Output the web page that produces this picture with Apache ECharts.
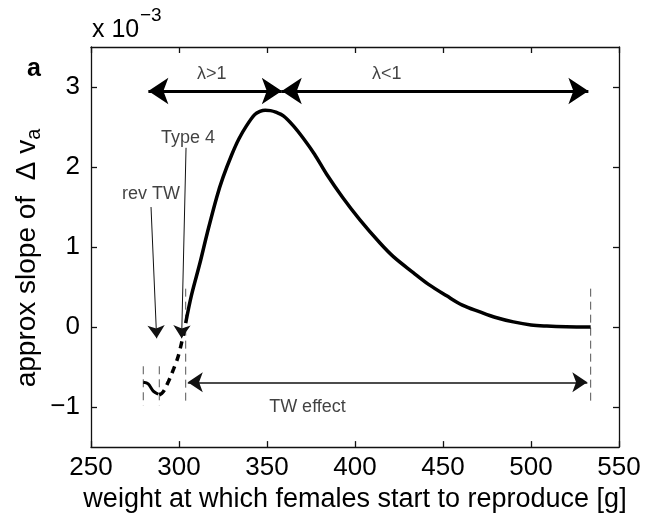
<!DOCTYPE html>
<html><head><meta charset="utf-8">
<script src="https://cdn.jsdelivr.net/npm/echarts@6/dist/echarts.min.js"></script>
<style>html,body{margin:0;padding:0;background:#fff}#c{width:645px;height:518px}</style>
</head><body><div id="c"></div>
<script>
// ---- data (y values in units of 1e-3) ----
const mainX = [303.8, 307, 311.9, 316, 321.4, 325, 329.9, 334, 338.5, 343, 346, 349, 352, 355, 359.3, 365, 370.6, 377, 383.9, 393, 402.8, 414.2, 421.8, 433.1, 442, 452.1, 461, 471, 480, 490, 500, 509, 520, 533.9];
const mainY = [0.05, 0.39, 0.80, 1.17, 1.62, 1.87, 2.15, 2.35, 2.52, 2.655, 2.695, 2.71, 2.705, 2.685, 2.64, 2.515, 2.36, 2.16, 1.91, 1.62, 1.34, 1.05, 0.88, 0.68, 0.53, 0.39, 0.275, 0.19, 0.12, 0.065, 0.027, 0.013, 0.004, 0.0];
const dashX = [288.8, 291, 294, 297, 300, 303.8];
const dashY = [-0.85, -0.81, -0.68, -0.52, -0.33, 0.05];
const leftX = [279.7, 282.5, 285.4, 288.2];
const leftY = [-0.69, -0.71, -0.80, -0.84];
const vlineX = [279.7, 288.8, 303.8, 533.9];
const vlineTop = [-0.49, -0.49, 0.48, 0.48];
const vlineBottom = [-0.98, -0.98, -0.98, -0.98];
const lambdaArrowX = [[282.6, 358.4], [358.4, 532.6]];
const lambdaArrowY = 2.95;
const twArrowX = [305, 532];
const twArrowY = -0.69;
const pointerFrom = [[284.1, 1.50], [304.0, 2.24]];
const pointerTo = [[287.3, -0.14], [301.5, -0.14]];
const labelTexts = ['λ>1', 'λ<1', 'Type 4', 'rev TW', 'TW effect'];
const labelX = [318.6, 418.0, 305.1, 284.1, 373.0];
const labelY = [3.16, 3.16, 2.36, 1.66, -1.0];
const xTickStep = 50;
const xRange = [250, 550];
const yRange = [-1.5, 3.5];
const yTickValues = [-1, 0, 1, 2, 3];
const scaleTexts = ['x 10', '−3'];
const panelLetter = 'a';
const xTitle = 'weight at which females start to reproduce [g]';
const yTitleMain = 'approx slope of  Δ v';
const yTitleSub = 'a';

const FONT = "'Liberation Sans', Arial, Helvetica, sans-serif";
const chart = echarts.init(document.getElementById('c'), null, {renderer: 'canvas'});

const axisLineStyle = {color: '#111', width: 1.3};
const fmtNum = v => (v < 0 ? '−' + Math.abs(v) : String(v));

const series = [];
series.push({type: 'line', data: mainX.map((x, i) => [x, mainY[i]]), smooth: 0.35, symbol: 'none',
  lineStyle: {color: '#000', width: 3.5}, z: 5, silent: true});
series.push({type: 'line', data: leftX.map((x, i) => [x, leftY[i]]), smooth: 0.3, symbol: 'none',
  lineStyle: {color: '#000', width: 3}, z: 5, silent: true});
series.push({type: 'line', data: dashX.map((x, i) => [x, dashY[i]]), smooth: 0.4, symbol: 'none',
  lineStyle: {color: '#000', width: 3.5, type: [7, 6]}, z: 5, silent: true});
vlineX.forEach((x, i) => {
  series.push({type: 'line', data: [[x, vlineTop[i]], [x, vlineBottom[i]]], symbol: 'none',
    lineStyle: {color: '#555', width: 1, type: [8, 5]}, z: 3, silent: true});
});
series.push({type: 'lines', coordinateSystem: 'cartesian2d', silent: true, z: 6,
  symbol: ['arrow', 'arrow'], symbolSize: 20,
  lineStyle: {color: '#000', width: 3.2, opacity: 1, curveness: 0},
  data: lambdaArrowX.map(p => ({coords: [[p[0], lambdaArrowY], [p[1], lambdaArrowY]]}))});
series.push({type: 'lines', coordinateSystem: 'cartesian2d', silent: true, z: 6,
  symbol: ['arrow', 'arrow'], symbolSize: 15,
  lineStyle: {color: '#111', width: 1.6, opacity: 1, curveness: 0},
  data: [{coords: [[twArrowX[0], twArrowY], [twArrowX[1], twArrowY]]}]});
series.push({type: 'lines', coordinateSystem: 'cartesian2d', silent: true, z: 6,
  symbol: ['none', 'arrow'], symbolSize: 13,
  lineStyle: {color: '#111', width: 1, opacity: 1, curveness: 0},
  data: pointerFrom.map((p, i) => ({coords: [p, pointerTo[i]]}))});
series.push({type: 'scatter', symbolSize: 0, silent: true, z: 7,
  data: labelTexts.map((t, i) => ({value: [labelX[i], labelY[i]],
    label: {show: true, position: 'inside', formatter: t, color: '#111', fontSize: 18, fontFamily: FONT}}))});

const option = {
  backgroundColor: '#fff',
  animation: false,
  grid: {left: 91, right: 26, top: 47, bottom: 64},
  xAxis: [{
    type: 'value', min: xRange[0], max: xRange[1], interval: xTickStep,
    axisLine: {show: true, onZero: false, lineStyle: axisLineStyle},
    axisTick: {show: true, inside: true, length: 6, lineStyle: axisLineStyle},
    splitLine: {show: false},
    axisLabel: {color: '#000', fontSize: 26, fontFamily: FONT, margin: 8},
    name: xTitle, nameLocation: 'middle', nameGap: 37,
    nameTextStyle: {color: '#000', fontSize: 27, fontFamily: FONT}
  }, {
    type: 'value', position: 'top', min: xRange[0], max: xRange[1], interval: xTickStep,
    axisLine: {show: true, onZero: false, lineStyle: axisLineStyle},
    axisTick: {show: true, inside: true, length: 6, lineStyle: axisLineStyle},
    splitLine: {show: false}, axisLabel: {show: false}
  }],
  yAxis: [{
    type: 'value', min: yRange[0], max: yRange[1],
    axisLine: {show: true, onZero: false, lineStyle: axisLineStyle},
    axisTick: {show: true, inside: true, length: 6, lineStyle: axisLineStyle, customValues: yTickValues},
    splitLine: {show: false},
    axisLabel: {color: '#000', fontSize: 26, fontFamily: FONT, margin: 11, customValues: yTickValues, formatter: fmtNum}
  }, {
    type: 'value', position: 'right', min: yRange[0], max: yRange[1],
    axisLine: {show: true, onZero: false, lineStyle: axisLineStyle},
    axisTick: {show: true, inside: true, length: 6, lineStyle: axisLineStyle, customValues: yTickValues},
    splitLine: {show: false}, axisLabel: {show: false}
  }],
  graphic: [
    {type: 'text', left: 92, top: 18, style: {text: scaleTexts[0], fontSize: 25, fontFamily: FONT, fill: '#000'}},
    {type: 'text', left: 140, top: 6, style: {text: scaleTexts[1], fontSize: 19, fontFamily: FONT, fill: '#000'}},
    {type: 'text', left: 27, top: 57, style: {text: panelLetter, fontSize: 25, fontWeight: 'bold', fontFamily: FONT, fill: '#000'}},
    {type: 'text', x: 27, y: 258, rotation: Math.PI / 2,
      style: {text: '{m|' + yTitleMain + '}{s|' + yTitleSub + '}', align: 'center', verticalAlign: 'middle',
        fill: '#000', fontFamily: FONT,
        rich: {m: {fontSize: 28, fontFamily: FONT, fill: '#000'},
               s: {fontSize: 20, fontFamily: FONT, fill: '#000', padding: [14, 0, 0, 0]}}}}
  ],
  series: series
};
chart.setOption(option);
</script>
</body></html>
